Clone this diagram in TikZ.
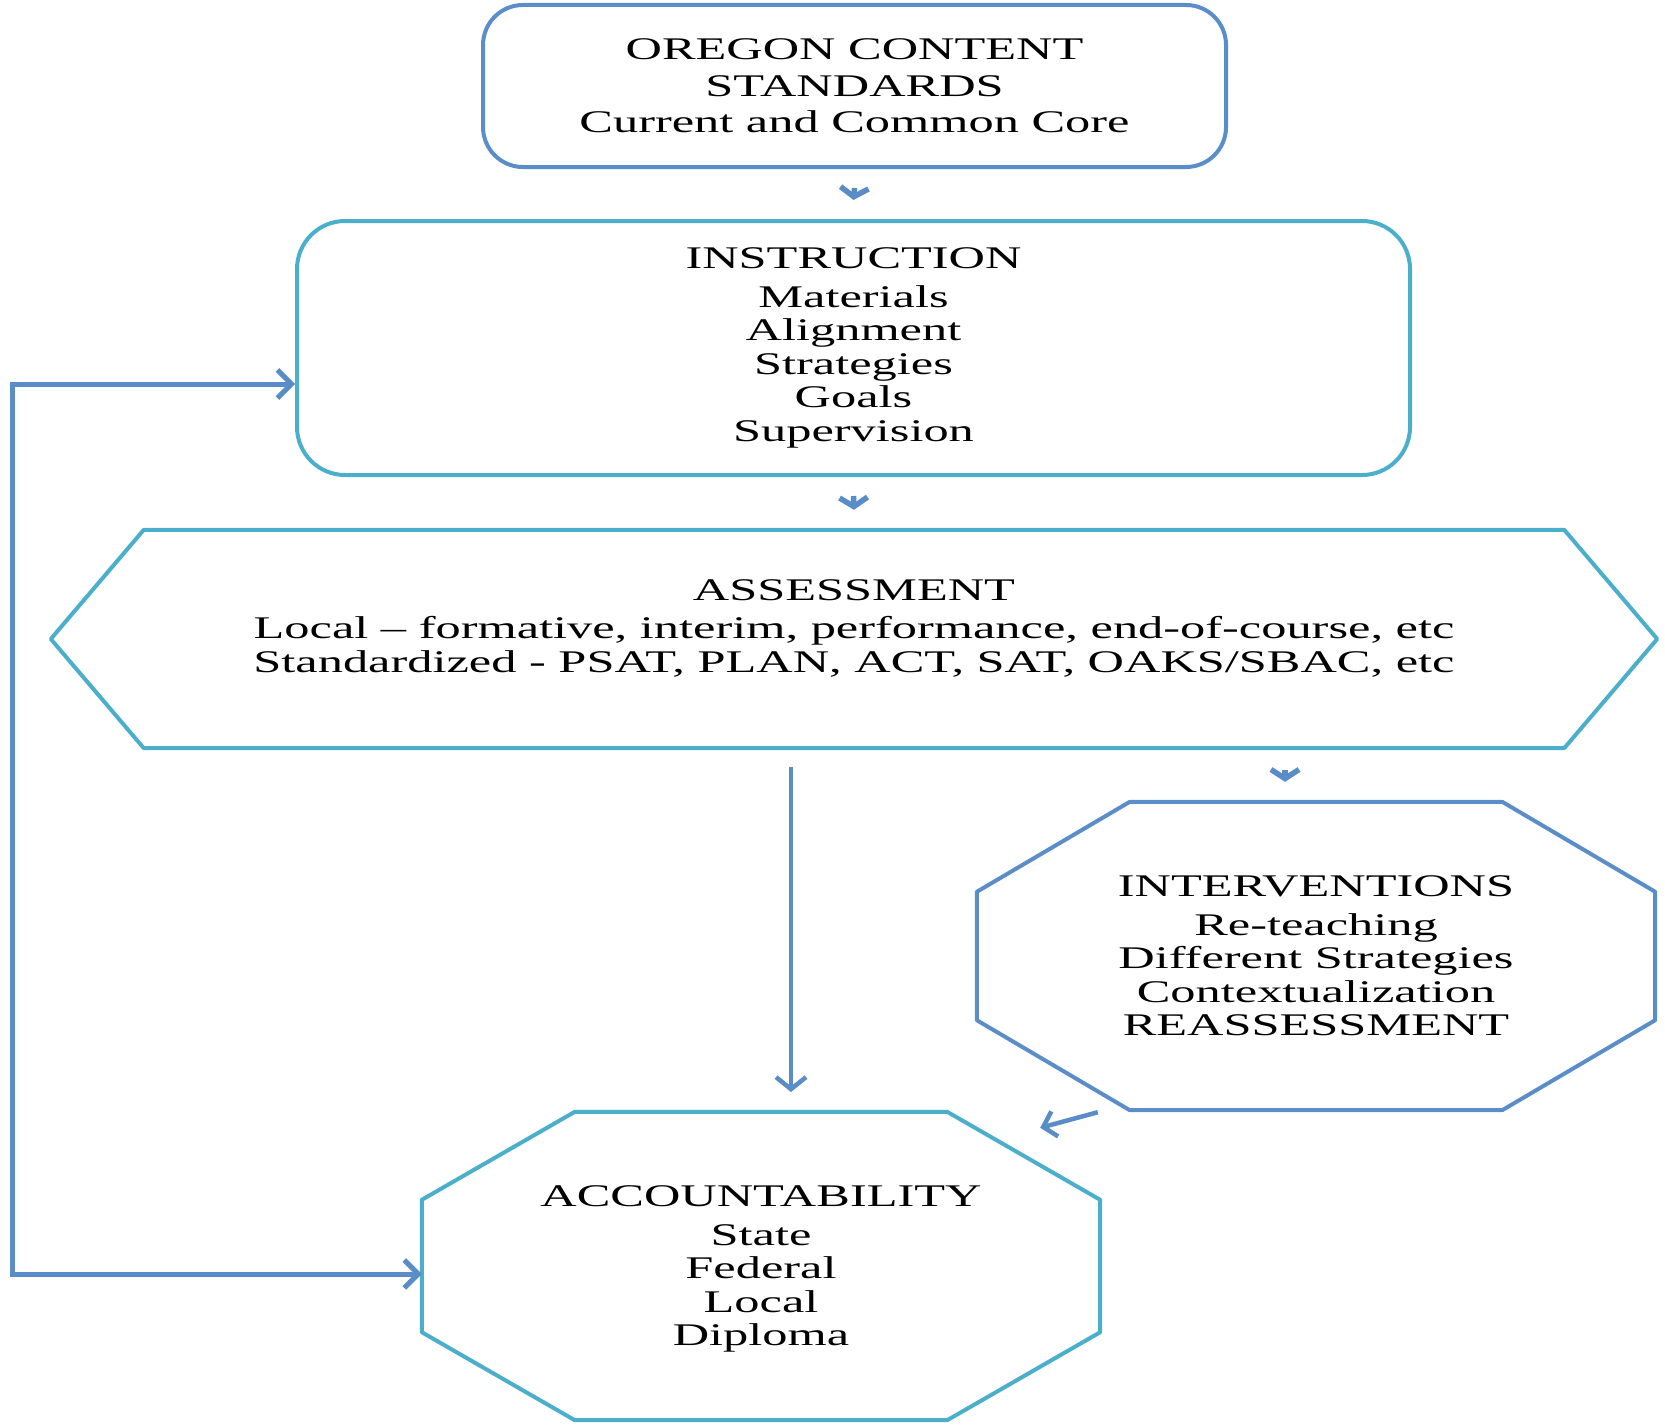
\documentclass[tikz,border=0pt]{standalone}
\usepackage{fontspec}
\setmainfont{Liberation Serif}[FakeStretch=1.6]
\usetikzlibrary{arrows.meta,calc}
\definecolor{boxblue}{HTML}{5B8DC9}
\definecolor{boxaqua}{HTML}{4BAFCB}
\definecolor{arrblue}{HTML}{5A8CC8}
\newcommand\drawoctagon[4]{%
  \draw[#2] ($(#1.north west)+(#3,0)$) -- ($(#1.north east)+(-#3,0)$)
    -- ($(#1.north east)+(0,#4)$) -- ($(#1.south east)+(0,-#4)$)
    -- ($(#1.south east)+(-#3,0)$) -- ($(#1.south west)+(#3,0)$)
    -- ($(#1.south west)+(0,-#4)$) -- ($(#1.north west)+(0,#4)$) -- cycle;}
\begin{document}
\begin{tikzpicture}[x=1pt,y=-1pt,
  txt/.style={align=center,font=\fontsize{31.5}{33.5}\selectfont,inner sep=0pt},
  toptxt/.style={align=center,font=\fontsize{31.5}{36.5}\selectfont,inner sep=0pt},
  area/.style={draw=none,inner sep=0pt},
  blueline/.style={draw=boxblue,line width=4pt,line join=round},
  aqualine/.style={draw=boxaqua,line width=4pt,line join=round},
  smallarr/.style={draw=arrblue,line width=5.5pt,-{Straight Barb[length=9pt,width=28pt,line width=5.5pt]}},
  longarr/.style={draw=arrblue,line width=4.5pt,-{Straight Barb[length=12pt,width=30pt,line width=4.5pt]}},
  fbarr/.style={draw=arrblue,line width=5pt,line join=miter,{Straight Barb[length=14pt,width=28pt,line width=5pt]}-{Straight Barb[length=14pt,width=28pt,line width=5pt]}}]
\useasboundingbox (0,0) rectangle (1665,1426);

% top box
\node[blueline,rounded corners=40pt,minimum width=743pt,minimum height=162pt,toptxt] (top) at (854.5,86)
  {OREGON CONTENT\\STANDARDS\\Current and Common Core};

% instruction
\node[aqualine,rounded corners=48pt,minimum width=1113pt,minimum height=254pt,txt] (instr) at (853.5,348)
  {INSTRUCTION\\[5pt]Materials\\Alignment\\Strategies\\Goals\\Supervision};

% assessment hexagon
\node[area,minimum width=1606pt,minimum height=218pt] (assess) at (854,639) {};
\draw[aqualine] (assess.west) -- ($(assess.north west)+(93,0)$) -- ($(assess.north east)+(-93,0)$)
  -- (assess.east) -- ($(assess.south east)+(-93,0)$) -- ($(assess.south west)+(93,0)$) -- cycle;
\node[txt] (assesstxt) at (854,628)
  {ASSESSMENT\\[5pt]Local -- formative, interim, performance, end-of-course, etc\\Standardized - PSAT, PLAN, ACT, SAT, OAKS/SBAC, etc};

% interventions octagon
\node[area,minimum width=678pt,minimum height=308pt,txt] (interv) at (1316,956)
  {INTERVENTIONS\\[5pt]Re-teaching\\Different Strategies\\Contextualization\\REASSESSMENT};
\drawoctagon{interv}{blueline}{153}{90}

% accountability octagon
\node[area,minimum width=678pt,minimum height=308pt] (acc) at (761,1266) {};
\node[txt] (acctxt) at (761,1269)
  {ACCOUNTABILITY\\[5pt]State\\Federal\\Local\\Diploma};
\drawoctagon{acc}{aqualine}{153}{88}

% small arrows
\draw[smallarr] ($(top.south)+(0,19)$) -- ($(instr.north)+(0,-19)$);
\draw[smallarr] ($(instr.south)+(0,19)$) -- ($(assess.north)+(0,-20)$);
\coordinate (a3s) at ($(assess.south)+(431,22)$);
\coordinate (a3e) at ($(interv.north)+(-31,-20)$);
\draw[smallarr] (a3s) -- (a3e);

% long arrow down to accountability
\coordinate (ldS) at ($(assess.south)+(-63,19)$);
\draw[longarr] (ldS) -- (ldS |- 0,1092);

% interventions -> accountability
\coordinate (ia1) at ($(interv.south west)+(121,2)$);
\coordinate (ia2) at ($(acc.north east)+(-60,16)$);
\draw[draw=arrblue,line width=4.5pt,-{Straight Barb[length=12pt,width=26pt,line width=4.5pt]}] (ia1) -- (ia2);

% feedback loop
\coordinate (fbtop) at (12,384);
\coordinate (fbbot) at (12,1274);
\draw[fbarr] ($(instr.west)+(0,36)$) -- (fbtop) -- (fbbot) -- (acc.west |- fbbot);
\end{tikzpicture}
\end{document}
